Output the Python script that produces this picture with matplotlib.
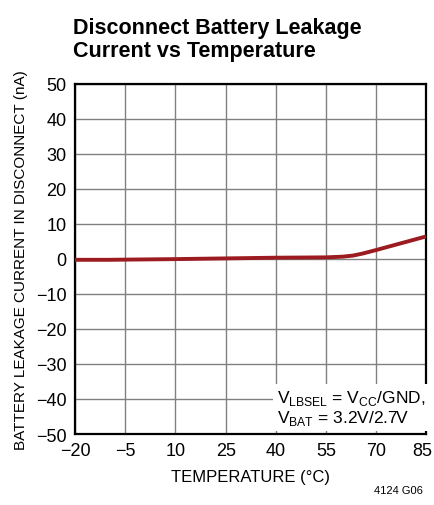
import numpy as np
import matplotlib.pyplot as plt
import matplotlib.transforms as mtransforms

# values
temp_c = [-20, -10, 0, 10, 25, 40, 55, 60, 63, 66, 70, 75, 80, 85]
leak_na = [-0.3, -0.3, -0.2, -0.1, 0.1, 0.3, 0.4, 0.6, 0.9, 1.5, 2.5, 3.8, 5.1, 6.4]
x_ticks = [-20, -5, 10, 25, 40, 55, 70, 85]
y_ticks = list(range(-50, 51, 10))

plt.rcParams["font.family"] = ["Liberation Sans", "DejaVu Sans"]

fig = plt.figure(figsize=(4.34, 5.06), dpi=100)
ax = fig.add_axes([0.1728, 0.1403, 0.8099, 0.6927])

ax.plot(temp_c, leak_na, color="#9b1b20", lw=2.8, solid_capstyle="butt", zorder=3)

ax.set_xlim(-20, 85)
ax.set_ylim(-50, 50)
ax.set_xticks(x_ticks)
ax.set_yticks(y_ticks)
ax.set_yticklabels([str(v).replace("-", "\u2212") for v in y_ticks])
ax.set_xticklabels([str(v).replace("-", "\u2212") for v in x_ticks])
ax.tick_params(length=0, labelsize=13, pad=6)
ax.grid(True, color="#808080", lw=1.0)
for s in ax.spines.values():
    s.set_linewidth(1.6)
    s.set_color("black")

# nudge the last x label so it stays inside the figure
last = ax.get_xticklabels()[-1]
last.set_transform(last.get_transform() + mtransforms.ScaledTranslation(-4 / 100, 0, fig.dpi_scale_trans))

ax.set_xlabel("TEMPERATURE (°C)", fontsize=12, labelpad=7)
ax.set_ylabel("BATTERY LEAKAGE CURRENT IN DISCONNECT (nA)", fontsize=11, labelpad=6)

fig.text(0.168, 0.921, "Disconnect Battery Leakage\nCurrent vs Temperature",
         fontsize=15.5, fontweight="bold", va="center", ha="left", linespacing=1.15)

ax.text(0.575, 0.02,
        "V$_{\\mathregular{LBSEL}}$ = V$_{\\mathregular{CC}}$/GND,\nV$_{\\mathregular{BAT}}$ = 3.2V/2.7V",
        transform=ax.transAxes, fontsize=12.5, va="bottom", ha="left", linespacing=1.05,
        bbox=dict(facecolor="white", edgecolor="none", pad=3), zorder=4)

fig.text(0.975, 0.03, "4124 G06", fontsize=8, ha="right", va="center")

fig.savefig("out.png", dpi=100)
